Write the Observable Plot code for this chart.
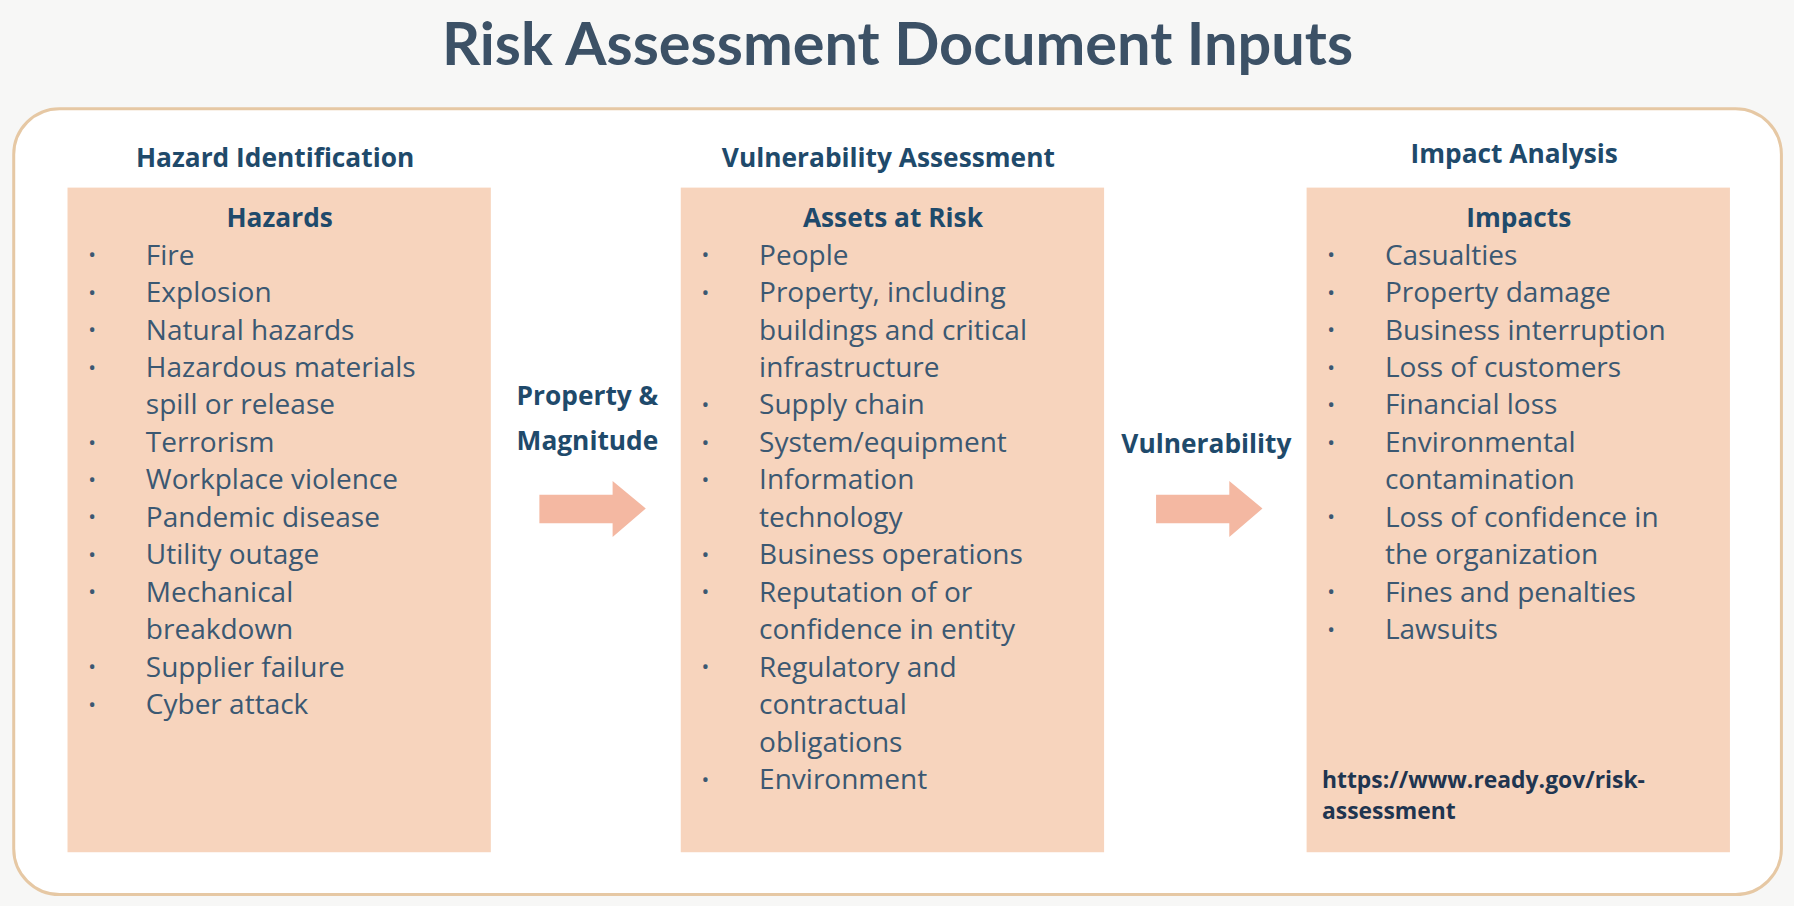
<!DOCTYPE html>
<html>
<head>
<meta charset="utf-8">
<script src="https://cdn.jsdelivr.net/npm/d3@7"></script>
<script src="https://cdn.jsdelivr.net/npm/@observablehq/plot@0.6"></script>
<style>
  body { margin: 0; background: #f7f7f6; }
  #chart svg { display: block; }
</style>
</head>
<body>
<div id="chart"></div>
<script>
// each list: [text, starts a bullet?]
const hazards = [
  ['Fire', 1], ['Explosion', 1], ['Natural hazards', 1], ['Hazardous materials', 1],
  ['spill or release', 0], ['Terrorism', 1], ['Workplace violence', 1], ['Pandemic disease', 1],
  ['Utility outage', 1], ['Mechanical', 1], ['breakdown', 0], ['Supplier failure', 1], ['Cyber attack', 1]
]
const assets = [
  ['People', 1], ['Property, including', 1], ['buildings and critical', 0], ['infrastructure', 0],
  ['Supply chain', 1], ['System/equipment', 1], ['Information', 1], ['technology', 0],
  ['Business operations', 1], ['Reputation of or', 1], ['confidence in entity', 0],
  ['Regulatory and', 1], ['contractual', 0], ['obligations', 0], ['Environment', 1]
]
const impacts = [
  ['Casualties', 1], ['Property damage', 1], ['Business interruption', 1], ['Loss of customers', 1],
  ['Financial loss', 1], ['Environmental', 1], ['contamination', 0], ['Loss of confidence in', 1],
  ['the organization', 0], ['Fines and penalties', 1], ['Lawsuits', 1]
]
const sections = ['Hazard Identification', 'Vulnerability Assessment', 'Impact Analysis']
const boxTitles = ['Hazards', 'Assets at Risk', 'Impacts']
const arrowLabels = [['Property &', 'Magnitude'], ['Vulnerability']]
const urlLines = ['https://www.ready.gov/risk-', 'assessment']

// layout (reference pixel units)
const k = 1794 / 1568
const boxX = [59, 595, 1142], boxW = 370
const lineY0 = 223, lineH = 32.75
const navy = '#1f4a6b', body = '#3b5872', peach = '#f7d4bd', arrowC = '#f4b8a2'
const font = '"Open Sans", sans-serif'

const lists = [hazards, assets, impacts]
const lines = lists.flatMap((l, c) => l.map(([t, b], i) => ({c, t, b, y: lineY0 + i * lineH})))
const cols = sections.map((s, c) => ({c, s, title: boxTitles[c], x: boxX[c]}))

const arrows = [471, 1010].map(x0 => [
  [x0, 432], [x0 + 64, 432], [x0 + 64, 420], [x0 + 93, 444], [x0 + 64, 469], [x0 + 64, 457], [x0, 457], [x0, 432]
])

const chart = Plot.plot({
  width: 1794, height: 906, margin: 0,
  x: {domain: [0, 1568], range: [0, 1794], axis: null},
  y: {domain: [0, 792], range: [0, 906], axis: null},
  style: {background: '#f7f7f6', fontFamily: font},
  marks: [
    Plot.rect([0], {x1: 12, x2: 1557, y1: 95, y2: 782, rx: 40 * k, fill: 'white', stroke: '#e6c8a4', strokeWidth: 3}),
    Plot.text(['Risk Assessment Document Inputs'], {x: 784, y: 40, text: d => d, fontSize: 52 * k, fontWeight: 'bold', fill: '#3c5166', fontFamily: 'Lato, sans-serif'}),
    Plot.rect(cols, {x1: 'x', x2: d => d.x + boxW, y1: 164, y2: 745, fill: peach}),
    Plot.text(cols, {x: d => d.x + boxW / 2 - 4, y: d => d.c === 2 ? 135 : 138, text: 's', fontSize: 23 * k, fontWeight: 'bold', fill: navy}),
    Plot.text(cols, {x: d => d.x + boxW / 2, y: 191, text: 'title', fontSize: 23 * k, fontWeight: 'bold', fill: navy}),
    Plot.text(lines.filter(d => d.b), {x: d => boxX[d.c] + 21, y: 'y', text: () => '•', fontSize: 18 * k, fill: body}),
    Plot.text(lines, {x: d => boxX[d.c] + 68, y: 'y', text: 't', textAnchor: 'start', fontSize: 24.5 * k, fill: body}),
    Plot.text(arrowLabels[0], {x: 513, y: (d, i) => 346 + i * 40, text: d => d, fontSize: 23 * k, fontWeight: 'bold', fill: navy}),
    Plot.text(arrowLabels[1], {x: 1054, y: 388, text: d => d, fontSize: 23 * k, fontWeight: 'bold', fill: navy}),
    ...arrows.map(a => Plot.line(a, {x: d => d[0], y: d => d[1], fill: arrowC, stroke: 'none'})),
    Plot.text(urlLines, {x: 1155, y: (d, i) => 682 + i * 27, text: d => d, textAnchor: 'start', fontSize: 20 * k, fontWeight: 'bold', fill: '#1f3550'})
  ]
})
d3.select('#chart').append(() => chart)
</script>
</body>
</html>
